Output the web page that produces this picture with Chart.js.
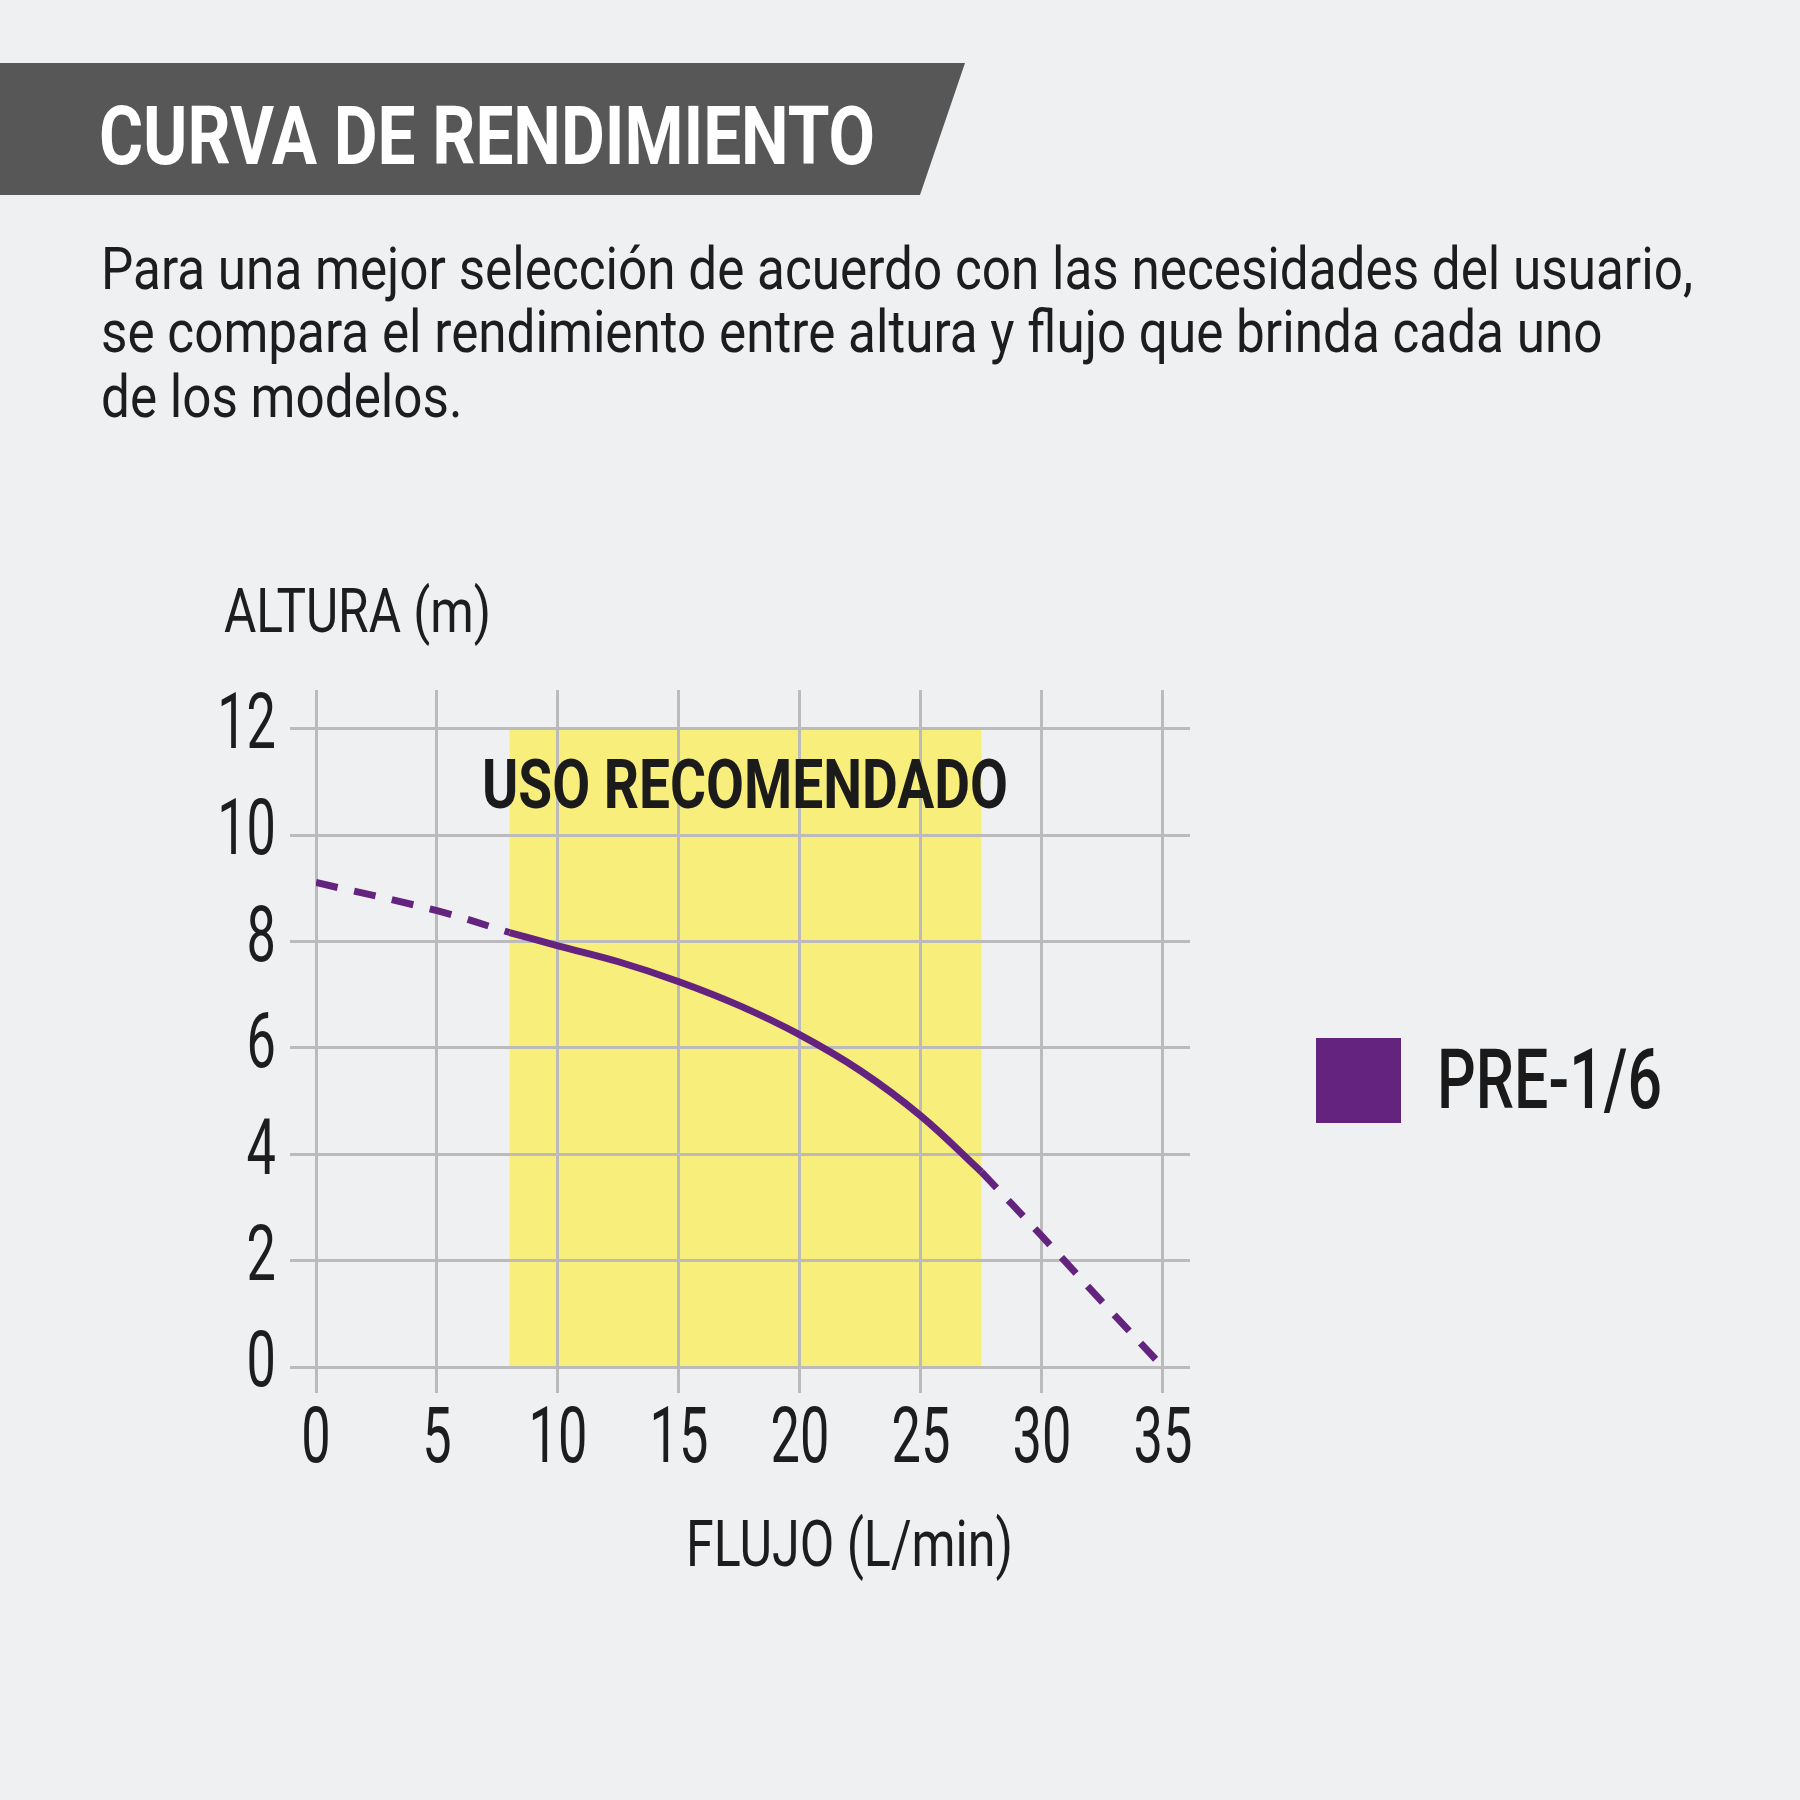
<!DOCTYPE html>
<html lang="es">
<head>
<meta charset="utf-8">
<title>Curva de rendimiento</title>
<script src="https://cdn.jsdelivr.net/npm/chart.js@4.4.1/dist/chart.umd.min.js"></script>
<style>
  html, body { margin: 0; padding: 0; }
  body {
    width: 1800px; height: 1800px; position: relative; overflow: hidden;
    background: #eff0f2; color: #1d1d1d;
    font-family: Roboto, "Liberation Sans", sans-serif;
  }
  #chart { position: absolute; left: 0; top: 0; }
  #banner {
    position: absolute; left: 0; top: 63px; width: 965px; height: 132px;
    background: #575757;
    clip-path: polygon(0 0, 965px 0, 920px 132px, 0 132px);
  }
  .t { position: absolute; white-space: nowrap; line-height: 1; transform-origin: 0 0; }
  #title { left: 99px; top: 95px; font-size: 82px; font-weight: 700; color: #fff; }
  .p { left: 101px; font-size: 59px; font-weight: 400; }
  #yTitle { left: 224px; top: 580px; font-size: 62px; }
  #xTitle { left: 686px; top: 1512px; font-size: 65px; }
  #zone { left: 482px; top: 751px; font-size: 68px; font-weight: 700; color: #1b1b1b; }
  #legendBox { position: absolute; left: 1316px; top: 1038px; width: 85px; height: 85px; }
  #legendText { left: 1437px; top: 1038px; font-size: 84px; font-weight: 500; color: #1a1a1a; }
</style>
</head>
<body>
<canvas id="chart" width="1800" height="1800"></canvas>
<div id="banner"></div>
<div class="t" id="title" data-w="776">CURVA DE RENDIMIENTO</div>
<div class="t p" id="p1" style="top:239px">Para una mejor selección de acuerdo con las necesidades del usuario,</div>
<div class="t p" id="p2" style="top:302px">se compara el rendimiento entre altura y flujo que brinda cada uno</div>
<div class="t p" id="p3" style="top:367px">de los modelos.</div>
<div class="t" id="yTitle" data-w="267">ALTURA (m)</div>
<div class="t" id="xTitle" data-w="327">FLUJO (L/min)</div>
<div class="t" id="zone" data-w="526">USO RECOMENDADO</div>
<div id="legendBox"></div>
<div class="t" id="legendText" data-w="225"></div>

<script>
// DATOS
const flowTicks = [0, 5, 10, 15, 20, 25, 30, 35];
const headTicks = [0, 2, 4, 6, 8, 10, 12];
const seriesName = "PRE-1/6";

// tramo punteado inicial, tramo continuo (uso recomendado), tramo punteado final
const flowLow = [0, 5, 8];
const headLow = [9.11, 8.58, 8.17];
const flowMain = [8, 10, 12.5, 15, 17.5, 20, 22.5, 25, 27.5];
const headMain = [8.17, 7.92, 7.62, 7.245, 6.795, 6.245, 5.57, 4.72, 3.67];
const flowHigh = [27.5, 30, 32.5, 35];
const headHigh = [3.67, 2.46, 1.22, 0];

// zona de uso recomendado
const bandFlow = [8, 27.5];
const bandHead = [0, 12];

// COLORES
const PURPLE = "#63237f";
const YELLOW = "#f7ee7b";
const GRID = "#bbbbbb";
const INK = "#1d1d1d";
const TICK_SQUEEZE = 0.68;

const el = (id) => document.getElementById(id);
const pts = (xs, ys) => xs.map((v, i) => ({ x: v, y: ys[i] }));

// franja amarilla por debajo de la rejilla
const bandPlugin = {
    id: "band",
    beforeDraw(chart) {
        const { ctx, scales: { x, y } } = chart;
        const x0 = x.getPixelForValue(bandFlow[0]);
        const x1 = x.getPixelForValue(bandFlow[1]);
        const y0 = y.getPixelForValue(bandHead[1]);
        const y1 = y.getPixelForValue(bandHead[0]);
        ctx.save();
        ctx.fillStyle = YELLOW;
        ctx.fillRect(x0, y0, x1 - x0, y1 - y0);
        ctx.restore();
    }
};

// numeros de los ejes estrechos (la tipografia original es condensada)
const narrowTicks = {
    id: "narrowTicks",
    beforeDraw(chart) {
        const fill = CanvasRenderingContext2D.prototype.fillText;
        chart.ctx.fillText = function (text, x, y) {
            this.save();
            this.translate(x, y);
            this.scale(TICK_SQUEEZE, 1);
            fill.call(this, text, 0, 0);
            this.restore();
        };
    },
    beforeDatasetsDraw(chart) {
        delete chart.ctx.fillText;
    }
};

const tickFont = { family: "Roboto, sans-serif", size: 77 };
const lineBase = { borderColor: PURPLE, borderWidth: 7, pointRadius: 0, tension: 0.4, borderCapStyle: "butt", fill: false };

new Chart(el("chart").getContext("2d"), {
    type: "line",
    data: {
        datasets: [
            { ...lineBase, label: seriesName, data: pts(flowLow, headLow), borderDash: [22, 17] },
            { ...lineBase, label: seriesName, data: pts(flowMain, headMain) },
            { ...lineBase, label: seriesName, data: pts(flowHigh, headHigh), borderDash: [22, 17] }
        ]
    },
    options: {
        responsive: false,
        animation: false,
        layout: { padding: { left: 0, right: 610, top: 690, bottom: 333 } },
        plugins: { legend: { display: false }, tooltip: { enabled: false } },
        scales: {
            x: {
                type: "linear", min: 0, max: 36.12,
                afterBuildTicks: (s) => { s.ticks = flowTicks.map(v => ({ value: v })); },
                afterFit: (s) => { s.height = 100; },
                grid: { color: GRID, lineWidth: 3, tickLength: 26, tickColor: GRID },
                border: { display: false },
                ticks: { font: tickFont, color: INK, padding: 4, maxRotation: 0, autoSkip: false }
            },
            y: {
                type: "linear", min: 0, max: 12.73,
                afterBuildTicks: (s) => { s.ticks = headTicks.map(v => ({ value: v })); },
                afterFit: (s) => { s.width = 316; },
                grid: { color: GRID, lineWidth: 3, tickLength: 26, tickColor: GRID },
                border: { display: false },
                ticks: { font: tickFont, color: INK, padding: 14, autoSkip: false }
            }
        }
    },
    plugins: [bandPlugin, narrowTicks]
});

// LEYENDA
el("legendBox").style.background = PURPLE;
el("legendText").textContent = seriesName;

// ajuste de ancho de textos (tipografía condensada)
const fitText = () => {
    document.querySelectorAll("[data-w]").forEach(t => {
        const w = t.getBoundingClientRect().width;
        t.style.transform = `scaleX(${t.dataset.w / w})`;
    });
    const k = 1592 / el("p1").getBoundingClientRect().width;
    ["p1", "p2", "p3"].forEach(id => { el(id).style.transform = `scaleX(${k})`; });
};
fitText();
</script>
</body>
</html>
